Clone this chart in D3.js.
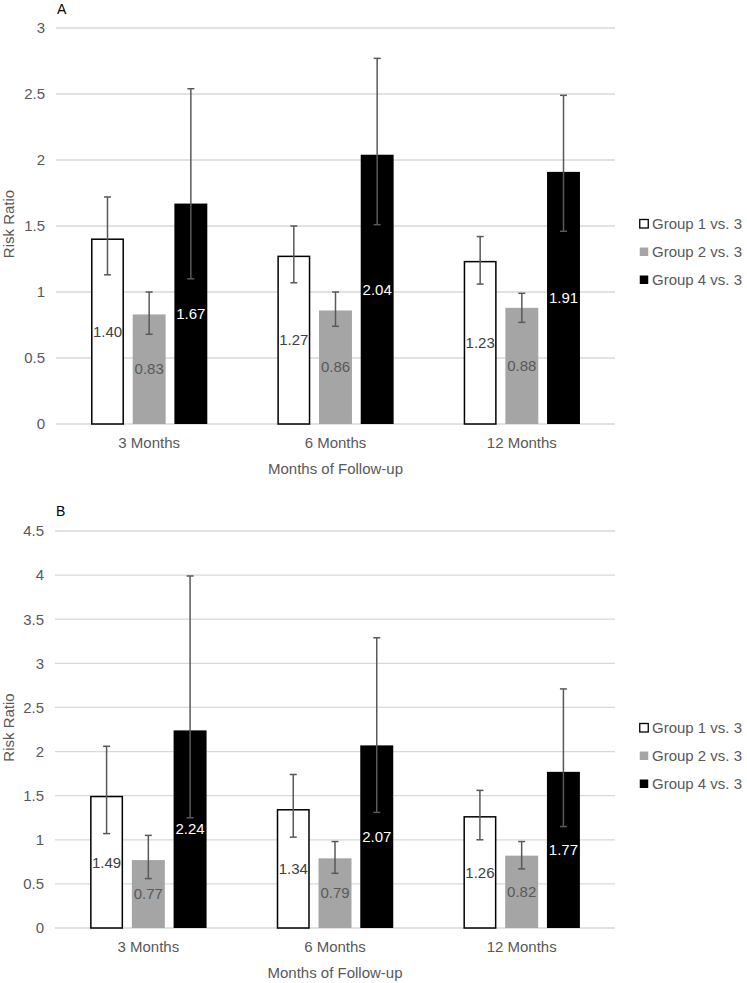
<!DOCTYPE html>
<html><head><meta charset="utf-8">
<script src="https://cdn.jsdelivr.net/npm/d3@7"></script>
<style>body{margin:0;background:#fff;} svg{display:block;font-family:"Liberation Sans",Arial,sans-serif;}</style>
</head><body>
<svg id="chart" width="747" height="983"></svg>
<script>
const categories = ["3 Months", "6 Months", "12 Months"];
const seriesNames = ["Group 1 vs. 3", "Group 2 vs. 3", "Group 4 vs. 3"];

// Panel A
const g1A = [1.40, 1.27, 1.23], g1A_lo = [1.13, 1.07, 1.06], g1A_hi = [1.72, 1.50, 1.42];
const g2A = [0.83, 0.86, 0.88], g2A_lo = [0.68, 0.74, 0.77], g2A_hi = [1.00, 1.00, 0.99];
const g4A = [1.67, 2.04, 1.91], g4A_lo = [1.10, 1.51, 1.46], g4A_hi = [2.54, 2.77, 2.49];
const ticksA = [0, 0.5, 1, 1.5, 2, 2.5, 3];

// Panel B
const g1B = [1.49, 1.34, 1.26], g1B_lo = [1.07, 1.03, 1.00], g1B_hi = [2.06, 1.74, 1.56];
const g2B = [0.77, 0.79, 0.82], g2B_lo = [0.56, 0.62, 0.67], g2B_hi = [1.05, 0.98, 0.98];
const g4B = [2.24, 2.07, 1.77], g4B_lo = [1.25, 1.31, 1.15], g4B_hi = [3.99, 3.29, 2.71];
const ticksB = [0, 0.5, 1, 1.5, 2, 2.5, 3, 3.5, 4, 4.5];

const fills = ["#ffffff", "#a5a5a5", "#000000"];
const labelColors = ["#404040", "#595959", "#ffffff"];
const svg = d3.select("#chart");

function panel(cfg) {
  const {letter, vals, lo, hi, ticks, x0, x1r, yTop, yBot, titleY} = cfg;
  const g = svg.append("g");
  const y = d3.scaleLinear().domain([0, d3.max(ticks)]).range([yBot, yTop]);
  const x = d3.scaleBand().domain(categories).range([x0, x1r]).paddingInner(0).paddingOuter(0);
  const bw = x.bandwidth();
  const xs = d3.scaleBand().domain(d3.range(3)).range([bw * 0.188, bw * 0.812]).paddingInner(0.21);

  // gridlines
  g.append("g").selectAll("line").data(ticks).join("line")
    .attr("x1", x0).attr("x2", x1r)
    .attr("y1", d => y(d)).attr("y2", d => y(d))
    .attr("stroke", "#d9d9d9").attr("stroke-width", 1.3);

  // y axis ticks
  const ya = d3.axisLeft(y).tickValues(ticks).tickSize(0).tickPadding(0).tickFormat(d => d3.format("")(d));
  const yAxis = g.append("g").attr("transform", `translate(${x0 - 11},0)`).call(ya);
  yAxis.select(".domain").remove();
  yAxis.selectAll("text").attr("fill", "#595959").style("font-size", "15px").style("font-family", '"Liberation Sans",Arial,sans-serif');

  // x axis labels
  const xa = d3.axisBottom(x).tickSize(0).tickPadding(0);
  const xAxis = g.append("g").attr("transform", `translate(0,${yBot + 13})`).call(xa);
  xAxis.select(".domain").remove();
  xAxis.selectAll("text").attr("fill", "#595959").style("font-size", "15px").style("font-family", '"Liberation Sans",Arial,sans-serif');

  // bars
  const rows = [];
  categories.forEach((c, ci) => {
    for (let s = 0; s < 3; s++) rows.push({c, s, v: vals[s][ci], lo: lo[s][ci], hi: hi[s][ci]});
  });
  const bars = g.append("g");
  bars.selectAll("rect").data(rows).join("rect")
    .attr("x", d => x(d.c) + xs(d.s) + (d.s === 0 ? 0.75 : 0))
    .attr("width", d => xs.bandwidth() - (d.s === 0 ? 1.5 : 0))
    .attr("y", d => y(d.v))
    .attr("height", d => y(0) - y(d.v))
    .attr("fill", d => fills[d.s])
    .attr("stroke", d => d.s === 0 ? "#000" : "none")
    .attr("stroke-width", 1.5);

  // value labels
  g.append("g").selectAll("text").data(rows).join("text")
    .attr("x", d => x(d.c) + xs(d.s) + xs.bandwidth() / 2)
    .attr("y", d => (y(d.v) + y(0)) / 2)
    .attr("dy", "0.35em").attr("text-anchor", "middle")
    .attr("fill", d => labelColors[d.s]).style("font-size", "15px")
    .text(d => d3.format(".2f")(d.v));

  // error bars
  const eb = g.append("g").attr("stroke", "#595959").attr("stroke-width", 1.5);
  const cx = d => x(d.c) + xs(d.s) + xs.bandwidth() / 2;
  eb.selectAll("line.v").data(rows).join("line").attr("class", "v")
    .attr("x1", cx).attr("x2", cx).attr("y1", d => y(d.lo)).attr("y2", d => y(d.hi));
  eb.selectAll("line.t").data(rows).join("line").attr("class", "t")
    .attr("x1", d => cx(d) - 3.5).attr("x2", d => cx(d) + 3.5).attr("y1", d => y(d.hi)).attr("y2", d => y(d.hi));
  eb.selectAll("line.b").data(rows).join("line").attr("class", "b")
    .attr("x1", d => cx(d) - 3.5).attr("x2", d => cx(d) + 3.5).attr("y1", d => y(d.lo)).attr("y2", d => y(d.lo));

  // axis titles
  g.append("text").attr("transform", `translate(14,${(yTop + yBot) / 2 - 2}) rotate(-90)`)
    .attr("text-anchor", "middle").attr("fill", "#595959").style("font-size", "15px").text("Risk Ratio");
  g.append("text").attr("x", (x0 + x1r) / 2).attr("y", titleY).attr("text-anchor", "middle")
    .attr("fill", "#595959").style("font-size", "15px").text("Months of Follow-up");

  // panel letter
  g.append("text").attr("x", x0 + 1).attr("y", yTop - cfg.letterOff).attr("fill", "#000").style("font-size", "14px").text(letter);

  // legend
  const lg = g.append("g").attr("transform", `translate(639,${cfg.legY})`);
  seriesNames.forEach((n, i) => {
    lg.append("rect").attr("x", 0.75).attr("y", i * 28 - 4.5).attr("width", 8.5).attr("height", 8.5)
      .attr("fill", fills[i]).attr("stroke", i === 0 ? "#000" : "none").attr("stroke-width", 1.3);
    lg.append("text").attr("x", 13).attr("y", i * 28).attr("dy", "0.35em")
      .attr("fill", "#595959").style("font-size", "15px").text(n);
  });
}

panel({letter: "A", vals: [g1A, g2A, g4A], lo: [g1A_lo, g2A_lo, g4A_lo], hi: [g1A_hi, g2A_hi, g4A_hi],
  ticks: ticksA, x0: 56, x1r: 615, yTop: 28, yBot: 424, titleY: 474, legY: 224, letterOff: 14});
panel({letter: "B", vals: [g1B, g2B, g4B], lo: [g1B_lo, g2B_lo, g4B_lo], hi: [g1B_hi, g2B_hi, g4B_hi],
  ticks: ticksB, x0: 55, x1r: 615, yTop: 531, yBot: 928, titleY: 978, legY: 728, letterOff: 15});
</script>
</body></html>
